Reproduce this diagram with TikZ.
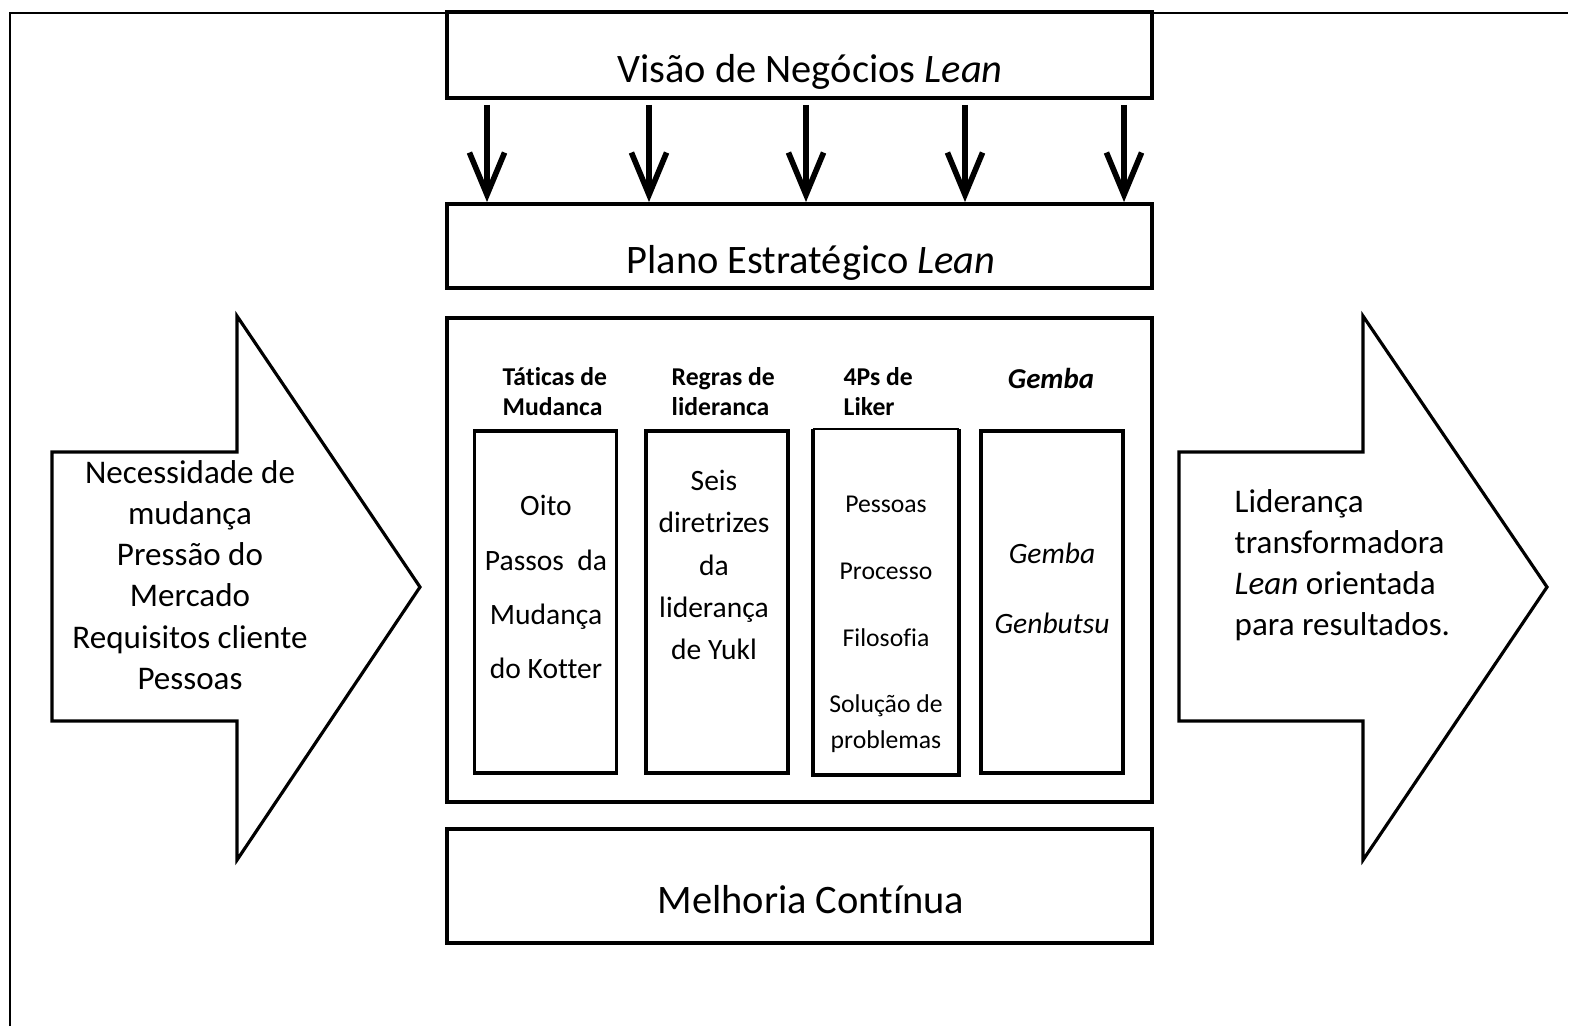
\documentclass[tikz,border=0pt]{standalone}
\usepackage{fontspec}
\setmainfont{Carlito}[Ligatures=NoCommon]
\usetikzlibrary{arrows.meta, positioning}
\tikzset{
  % Outer wide box
  BX/.style={rectangle,draw=black,line width=1.1pt,minimum width=7.05cm,
             inner sep=0pt},
  % Narrow column box
  CB/.style={rectangle,draw=black,line width=1.1pt,minimum width=1.42cm,
             minimum height=3.42cm,inner sep=0pt},
  % Texts
  TT/.style={font=\fontsize{11.5pt}{13pt}\selectfont},
  HD/.style={font=\fontsize{7.3pt}{8.6pt}\selectfont\bfseries,align=left,
             anchor=north west,inner sep=0pt},
  CT/.style={align=center,inner sep=0pt,font=\fontsize{8.4pt}{#1}\selectfont},
  CT/.default=15.4pt,
  ST/.style={align=#1,inner sep=0pt,font=\fontsize{9.4pt}{11.7pt}\selectfont},
  ST/.default=center,
  % Block arrows and down arrows
  BA/.style={draw=black,line width=0.9pt,line join=miter},
  Arr/.style={-{Straight Barb[length=12pt,width=10pt]},line width=1.6pt,
              shorten <=0.05cm},
}
\begin{document}
\begin{tikzpicture}[x=0.01cm,y=-0.01cm]
      \useasboundingbox (0,0) rectangle (1570,1026);
      % Frame (top and left only)
      \draw[line width=0.6pt] (10,1026) -- (10,13) -- (1568,13);
      % Block arrows left and right
      \draw[BA] (52,452) -- (237,452) -- (237,316) -- (420,587)
                -- (237,860) -- (237,721) -- (52,721) -- cycle;
      \draw[BA] (1179,452) -- (1363,452) -- (1363,316) -- (1547,587)
                -- (1363,860) -- (1363,721) -- (1179,721) -- cycle;
      \node[ST] at (190,575) (need)
            {Necessidade de\\mudança\\Pressão do\\Mercado\\Requisitos cliente\\Pessoas};
      \node[ST=left,anchor=west] at (1234,565) (lead)
            {Liderança\\transformadora\\\textit{Lean} orientada\\para resultados.};
      % Wide boxes in the middle column
      \node[BX,fill=white,minimum height=0.86cm] at (799.5,55) (vis) {};
      \node[TT] at (810,72) (visT) {Visão de Negócios \textit{Lean}};
      \node[BX,minimum height=0.84cm] at (799.5,246) (plano) {};
      \node[TT] at (811,263) (planoT) {Plano Estratégico \textit{Lean}};
      \node[BX,minimum height=4.84cm] at (799.5,560) (core) {};
      \node[BX,minimum height=1.14cm] at (799.5,886) (melh) {};
      \node[TT] at (811,900) (melhT) {Melhoria Contínua};
      % Five arrows from vision to plan
      \foreach \x in {487,649,806,965,1124}
        \draw[Arr] (vis.south -| \x,0) -- (plano.north -| \x,0);
      % Column headers
      \node[HD] at (502,367) (h1) {Tát\kern0pt icas de\\Mudanca};
      \node[HD] at (671,367) (h2) {Regras de\\lideranca};
      \node[HD] at (843,367) (h3) {4Ps de\\Liker};
      \node[HD,anchor=center,font=\fontsize{8.2pt}{9pt}\selectfont\bfseries\itshape]
            at (1051,378) (h4) {Gemba};
      % Column boxes
      \node[CB] at (545.5,602) (c1) {};
      \node[CB] at (717,602) (c2) {};
      \node[CB,draw=none] at (886,602) (c3) {};
      \draw[line width=1.1pt] (c3.north west) -- (c3.south west)
            -- (c3.south east) -- (c3.north east);
      \draw[line width=0.4pt] (c3.north west) -- (c3.north east);
      \node[CB] at (1052,602) (c4) {};
      % Column texts
      \node[CT] at (546,587) (t1) {Oito\\Passos\ \ da\\Mudança\\do Kotter};
      \node[CT=12pt] at (714,565) (t2)
            {Seis\\diretrizes\\da\\liderança\\de Yukl};
      \node[CT=10pt,font=\fontsize{7.3pt}{10pt}\selectfont] at (886,624) (t3)
            {Pessoas\\[9pt]Processo\\[9pt]Filosofia\\[9pt]Solução de\\problemas};
      \node[CT=20pt,font=\fontsize{8.4pt}{20pt}\selectfont\itshape]
            at (1052,588) (t4) {Gemba\\Genbutsu};
\end{tikzpicture}
\end{document}
